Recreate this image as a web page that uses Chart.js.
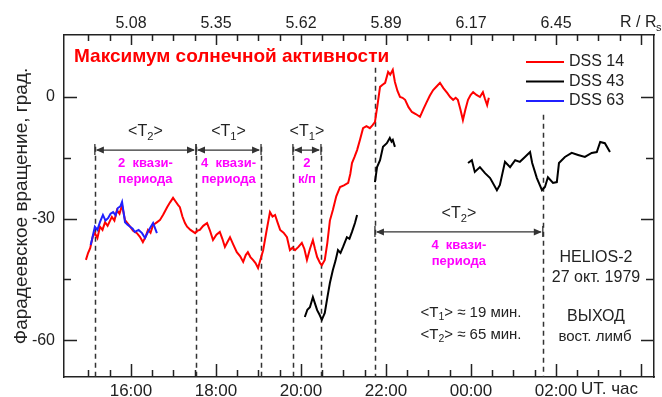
<!DOCTYPE html>
<html>
<head>
<meta charset="utf-8">
<script src="https://cdn.jsdelivr.net/npm/chart.js@4"></script>
<style>body{margin:0;background:#fff}</style>
</head>
<body>
<canvas id="chart" width="662" height="397"></canvas>
<script>
const FONT = '"Liberation Sans", Arial, sans-serif';

// time axis in hours UT (24 = 00:00 of next day)
const hourTicks = [15, 15.5, 16, 16.5, 17, 17.5, 18, 18.5, 19, 19.5, 20, 20.5, 21, 21.5,
  22, 22.5, 23, 23.5, 24, 24.5, 25, 25.5, 26, 26.5, 27, 27.5, 28];
const timeLabels = {16: '16:00', 18: '18:00', 20: '20:00', 22: '22:00', 24: '00:00', 26: '02:00'};
const distLabels = {16: '5.08', 18: '5.35', 20: '5.62', 22: '5.89', 24: '6.17', 26: '6.45'};
const rotTicks = [-60, -45, -30, -15, 0];
const rotLabels = {0: '0', '-30': '-30', '-60': '-60'};

// DSS 14 (red)
const hours14 = [14.94, 14.99, 15.04, 15.10, 15.15, 15.21, 15.27, 15.33, 15.39, 15.45, 15.55, 15.61,
  15.67, 15.73, 15.79, 15.86, 15.92, 15.98, 16.05, 16.14, 16.21, 16.28, 16.34, 16.40, 16.46, 16.52,
  16.60, 16.68, 16.76, 16.85, 16.92, 16.99, 17.05, 17.11, 17.15, 17.21, 17.27, 17.32, 17.40, 17.51,
  17.56, 17.62, 17.70, 17.79, 17.86, 17.93, 18.01, 18.09, 18.15, 18.21, 18.27, 18.33, 18.41, 18.49,
  18.57, 18.64, 18.70, 18.75, 18.81, 18.87, 18.93, 18.99, 19.05, 19.11, 19.19, 19.27, 19.33, 19.39,
  19.45, 19.51, 19.59, 19.67, 19.74, 19.80, 19.86, 19.94, 20.02, 20.08, 20.14, 20.21, 20.28, 20.33,
  20.38, 20.45, 20.49, 20.56, 20.62, 20.68, 20.75, 20.83, 20.92, 21.01, 21.11, 21.16, 21.20, 21.26,
  21.32, 21.39, 21.46, 21.54, 21.62, 21.68, 21.74, 21.80, 21.86, 21.92, 21.98, 22.05, 22.10, 22.16,
  22.21, 22.27, 22.33, 22.39, 22.45, 22.53, 22.61, 22.70, 22.80, 22.88, 22.96, 23.03, 23.11, 23.19,
  23.27, 23.35, 23.44, 23.51, 23.58, 23.64, 23.69, 23.75, 23.81, 23.87, 23.93, 23.99, 24.05, 24.13,
  24.21, 24.28, 24.33, 24.38, 24.42];
const dss14 = [-40.2, -38.5, -37.3, -34.5, -33.6, -34.8, -32.0, -32.8, -30.9, -31.8, -29.6, -30.5,
  -27.9, -28.8, -26.7, -30.4, -31.2, -32.0, -33.0, -33.6, -34.5, -35.8, -34.6, -32.8, -33.5, -31.6,
  -31.0, -30.4, -29.0, -27.2, -26.0, -24.9, -25.8, -26.7, -27.2, -29.5, -31.1, -32.0, -32.8, -33.6,
  -33.0, -32.8, -31.8, -31.1, -33.0, -35.3, -34.0, -33.3, -35.0, -37.0, -35.8, -34.6, -36.5, -38.3,
  -39.3, -40.7, -39.0, -38.3, -39.5, -40.2, -41.0, -42.2, -40.0, -37.8, -33.0, -28.4, -29.5, -29.1,
  -31.0, -32.8, -33.5, -34.6, -37.8, -37.2, -37.8, -37.0, -36.0, -37.5, -40.2, -37.5, -35.3, -37.5,
  -39.5, -41.0, -41.5, -40.2, -36.0, -30.5, -27.9, -24.5, -22.2, -21.8, -21.2, -19.0, -16.3, -14.8,
  -13.1, -10.5, -7.7, -7.2, -7.7, -7.0, -6.2, -2.0, 2.5, 3.0, 3.5, 6.2, 5.5, 6.7,
  3.7, 1.5, 0, -0.2, -0.7, -2.5, -3.7, -4.2, -4.9, -3.0, -1.2, 0.3, 1.7, 2.6,
  3.5, 2.2, 1.0, 0, -0.7, -0.2, -0.7, -3.0, -5.7, -3.0, -0.7, 0.5, 1.2, 0.5,
  0, 1.2, -0.5, -2.0, -0.2];

// DSS 43 (black), null = gap between passes
const hours43 = [20.09, 20.15, 20.21, 20.28, 20.33, 20.38, 20.44, 20.49, 20.56, 20.62, 20.68, 20.75,
  20.81, 20.87, 20.93, 20.99, 21.08, 21.14, 21.20, 21.27, 21.32, 21.5,
  21.74, 21.79, 21.86, 21.93, 22.02, 22.09, 22.13, 22.16, 22.21, 23.0,
  23.93, 24.02, 24.09, 24.21, 24.33, 24.45, 24.61, 24.68, 24.80, 24.92, 25.04, 25.15, 25.27, 25.39,
  25.44, 25.55, 25.67, 25.74, 25.81, 25.93, 26.02, 26.07, 26.21, 26.37, 26.52, 26.68, 26.84, 26.96,
  27.04, 27.15, 27.27];
const dss43 = [-54.3, -52.5, -51.9, -49.4, -51.0, -52.6, -53.8, -55.0, -53.3, -49.5, -45.9, -42.7,
  -40.5, -37.8, -38.5, -37.0, -34.6, -35.0, -33.3, -31.1, -29.1, null,
  -21.0, -17.3, -15.6, -12.3, -11.4, -10.1, -11.0, -10.6, -12.3, null,
  -16.3, -15.6, -18.5, -17.3, -18.8, -20.0, -23.0, -21.7, -16.0, -17.3, -15.6, -16.0, -14.8, -13.6,
  -16.3, -20.0, -23.0, -22.2, -19.8, -21.2, -21.0, -16.3, -14.8, -13.8, -14.3, -14.8, -13.8, -13.6,
  -11.1, -11.4, -13.6];

// DSS 63 (blue)
const hours63 = [15.05, 15.08, 15.15, 15.21, 15.27, 15.34, 15.40, 15.46, 15.52, 15.58, 15.64, 15.69,
  15.75, 15.79, 15.86, 15.92, 15.98, 16.04, 16.09, 16.18, 16.26, 16.33, 16.39, 16.45, 16.52, 16.57, 16.61];
const dss63 = [-36.5, -35.3, -32.0, -32.8, -30.9, -29.1, -30.5, -29.9, -28.8, -28.4, -29.2, -27.4,
  -27.0, -25.9, -30.9, -31.5, -32.0, -32.5, -33.3, -32.8, -33.6, -34.8, -33.5, -32.3, -31.1, -32.5, -33.6];

// dashed markers: hour and the value where each line starts
const markHours = [15.15, 17.53, 19.06, 19.81, 20.47, 21.74, 25.69];
const markTops = [-12.3, -12.3, -12.3, -12.3, -12.3, 7.2, -4.4];

const spans = [
  {from: 15.15, to: 17.53, at: -13.1, sub: '2', note: ['2  квази-', 'периода']},
  {from: 17.53, to: 19.06, at: -13.1, sub: '1', note: ['4  квази-', 'периода']},
  {from: 19.81, to: 20.47, at: -13.1, sub: '1', note: ['2', 'к/п']},
  {from: 21.74, to: 25.69, at: -33.3, sub: '2', note: ['4  квази-', 'периода']}
];

const pts = (h, v) => h.map((x, i) => ({x: x, y: v[i]}));

function subText(ctx, parts, cx, cy, size) {
  let w = 0;
  parts.forEach(p => {
    ctx.font = (p[1] ? size * 0.7 : size) + 'px ' + FONT;
    w += ctx.measureText(p[0]).width;
  });
  let x = cx - w / 2;
  ctx.textAlign = 'left';
  ctx.textBaseline = 'middle';
  parts.forEach(p => {
    ctx.font = (p[1] ? size * 0.7 : size) + 'px ' + FONT;
    ctx.fillText(p[0], x, p[1] ? cy + size * 0.3 : cy);
    x += ctx.measureText(p[0]).width;
  });
}

function arrowHead(ctx, x, y, dir) {
  ctx.beginPath();
  ctx.moveTo(x, y);
  ctx.lineTo(x - dir * 8, y - 3.5);
  ctx.lineTo(x - dir * 8, y + 3.5);
  ctx.closePath();
  ctx.fill();
}

const decor = {
  id: 'decor',
  beforeDatasetsDraw(chart) {
    const {ctx, chartArea: a, scales: {x, y}} = chart;
    ctx.save();
    ctx.strokeStyle = '#333';
    ctx.lineWidth = 1.5;
    ctx.setLineDash([5, 4]);
    markHours.forEach((h, i) => {
      const px = Math.round(x.getPixelForValue(h)) + 0.5;
      ctx.beginPath();
      ctx.moveTo(px, y.getPixelForValue(markTops[i]));
      ctx.lineTo(px, a.bottom);
      ctx.stroke();
    });
    ctx.restore();
  },
  afterDraw(chart) {
    const {ctx, chartArea: a, scales: {x, y}} = chart;
    ctx.save();
    // inward tick marks
    ctx.strokeStyle = '#222';
    ctx.lineWidth = 1.5;
    x.ticks.forEach(t => {
      const px = Math.round(x.getPixelForValue(t.value)) + 0.5;
      const major = t.value % 2 === 0;
      ctx.beginPath();
      ctx.moveTo(px, a.bottom);
      ctx.lineTo(px, a.bottom - (major ? 13 : 7));
      ctx.moveTo(px, a.top);
      ctx.lineTo(px, a.top + (major ? 10 : 6));
      ctx.stroke();
    });
    y.ticks.forEach(t => {
      const py = Math.round(y.getPixelForValue(t.value)) + 0.5;
      const major = t.value % 30 === 0;
      ctx.beginPath();
      ctx.moveTo(a.left, py);
      ctx.lineTo(a.left + (major ? 13 : 7), py);
      ctx.moveTo(a.right, py);
      ctx.lineTo(a.right - (major ? 13 : 8), py);
      ctx.stroke();
    });

    // period brackets
    ctx.fillStyle = '#333';
    ctx.strokeStyle = '#333';
    ctx.lineWidth = 1.3;
    spans.forEach(s => {
      const x1 = x.getPixelForValue(s.from), x2 = x.getPixelForValue(s.to);
      const py = y.getPixelForValue(s.at);
      ctx.beginPath();
      ctx.moveTo(x1 + 2, py); ctx.lineTo(x2 - 2, py);
      ctx.moveTo(x1, py - 6); ctx.lineTo(x1, py + 5);
      ctx.moveTo(x2, py - 6); ctx.lineTo(x2, py + 5);
      ctx.stroke();
      arrowHead(ctx, x1 + 1, py, -1);
      arrowHead(ctx, x2 - 1, py, 1);
      const cx = (x1 + x2) / 2;
      ctx.fillStyle = '#222';
      subText(ctx, [['<T', 0], [s.sub, 1], ['>', 0]], cx, py - 18, 16);
      ctx.fillStyle = '#ff00ff';
      ctx.font = 'bold 13px ' + FONT;
      ctx.textAlign = 'center';
      ctx.fillText(s.note[0], cx, py + 13);
      ctx.fillText(s.note[1], cx, py + 29);
      ctx.fillStyle = '#333';
    });

    // title
    ctx.fillStyle = '#ff0000';
    ctx.font = 'bold 19px ' + FONT;
    ctx.textAlign = 'left';
    ctx.textBaseline = 'middle';
    ctx.fillText('Максимум солнечной активности', 74, 57);

    // legend
    const legend = [['DSS 14', '#ff0000'], ['DSS 43', '#000000'], ['DSS 63', '#2020ff']];
    legend.forEach((l, i) => {
      const ly = 62 + i * 19.5;
      ctx.strokeStyle = l[1];
      ctx.lineWidth = 2;
      ctx.beginPath();
      ctx.moveTo(526, ly); ctx.lineTo(564, ly);
      ctx.stroke();
      ctx.fillStyle = '#222';
      ctx.font = '16px ' + FONT;
      ctx.fillText(l[0], 569, ly);
    });

    // notes
    ctx.fillStyle = '#222';
    ctx.textAlign = 'center';
    ctx.font = '16px ' + FONT;
    ctx.fillText('HELIOS-2', 596, 258);
    ctx.fillText('27 окт. 1979', 596, 278);
    ctx.fillText('ВЫХОД', 596, 317);
    ctx.font = '15px ' + FONT;
    ctx.fillText('вост. лимб', 595, 337);
    subText(ctx, [['<T', 0], ['1', 1], ['> ≈ 19 мин.', 0]], 471, 313, 15);
    subText(ctx, [['<T', 0], ['2', 1], ['> ≈ 65 мин.', 0]], 471, 335, 15);

    // axis captions
    ctx.textAlign = 'left';
    ctx.font = '17px ' + FONT;
    ctx.fillText('UT. час', 581, 389);
    ctx.font = '16px ' + FONT;
    ctx.fillText('R / R', 620, 23);
    ctx.font = '11px ' + FONT;
    ctx.fillText('s', 656, 28);

    ctx.translate(22, (a.top + a.bottom) / 2);
    ctx.rotate(-Math.PI / 2);
    ctx.textAlign = 'center';
    ctx.font = '19px ' + FONT;
    ctx.fillText('Фарадеевское вращение, град.', 0, 0);
    ctx.restore();
  }
};

const tickFont = {family: FONT, size: 16};
const setHourTicks = s => { s.ticks = hourTicks.map(v => ({value: v})); };

const config = {
  type: 'line',
  data: {
    datasets: [
      {label: 'DSS 14', data: pts(hours14, dss14), borderColor: '#ff0000', borderWidth: 2, order: 2},
      {label: 'DSS 43', data: pts(hours43, dss43), borderColor: '#000000', borderWidth: 2, order: 1},
      {label: 'DSS 63', data: pts(hours63, dss63), borderColor: '#2020ff', borderWidth: 2, order: 0}
    ]
  },
  options: {
    responsive: false,
    animation: false,
    spanGaps: false,
    elements: {point: {radius: 0}, line: {tension: 0}},
    layout: {padding: 0},
    plugins: {legend: {display: false}, tooltip: {enabled: false}},
    scales: {
      x: {
        type: 'linear', position: 'bottom', min: 14.424, max: 28.306,
        afterBuildTicks: setHourTicks,
        afterFit: s => { s.height = 20; },
        grid: {display: false, drawTicks: false},
        border: {display: true, color: '#222', width: 1.5},
        ticks: {autoSkip: false, maxRotation: 0, padding: 4, color: '#222',
          font: {family: FONT, size: 17}, callback: v => timeLabels[v] || ''}
      },
      xTop: {
        type: 'linear', position: 'top', min: 14.424, max: 28.306,
        afterBuildTicks: setHourTicks,
        afterFit: s => { s.height = 35; },
        grid: {display: false, drawTicks: false},
        border: {display: true, color: '#222', width: 1.5},
        ticks: {autoSkip: false, maxRotation: 0, padding: 2, color: '#222', font: tickFont,
          callback: v => distLabels[v] || ''}
      },
      y: {
        type: 'linear', position: 'left', min: -69.1, max: 15.3,
        afterBuildTicks: s => { s.ticks = rotTicks.map(v => ({value: v})); },
        afterFit: s => { s.width = 64; },
        grid: {display: false, drawTicks: false},
        border: {display: true, color: '#222', width: 1.5},
        ticks: {padding: 9, color: '#222', font: tickFont, callback: v => rotLabels[v] || ''}
      },
      yRight: {
        type: 'linear', position: 'right', min: -69.1, max: 15.3,
        afterFit: s => { s.width = 8; },
        grid: {display: false, drawTicks: false},
        border: {display: true, color: '#222', width: 1.5},
        ticks: {display: false}
      }
    }
  },
  plugins: [decor]
};

const ctx = document.getElementById('chart').getContext('2d');
const myChart = new Chart(ctx, config);
</script>
</body>
</html>
